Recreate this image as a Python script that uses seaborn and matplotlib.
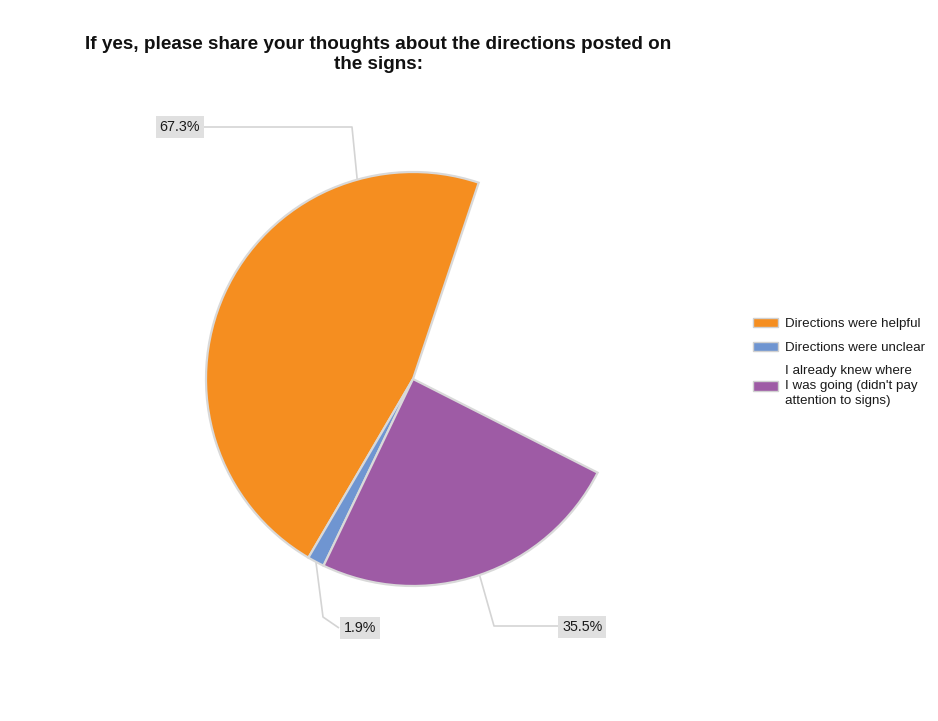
import numpy as np
import matplotlib
matplotlib.use("Agg")
import matplotlib.pyplot as plt
import seaborn as sns

# Survey answers and their shares of respondents (%)
categories = [
    "Directions were helpful",
    "Directions were unclear",
    "I already knew where\nI was going (didn't pay\nattention to signs)",
]
shares = [67.3, 1.9, 35.5]
value_labels = ["67.3%", "1.9%", "35.5%"]
title = "If yes, please share your thoughts about the directions posted on\nthe signs:"

sns.set_theme(style="white")
plt.rcParams["font.family"] = ["Liberation Sans", "DejaVu Sans"]
palette = sns.color_palette(["#F58E20", "#6F95D1", "#9E5BA5"])

W, H = 938, 721
fig = plt.figure(figsize=(W / 100, H / 100), dpi=100)
ax = fig.add_axes([0, 0, 1, 1])


def Y(y):
    """Convert a top-down pixel row to the axes' y coordinate."""
    return H - y


# Pie geometry
cx, cy, radius = 413, Y(379), 207
sweep = 261.6          # degrees covered by the wedges
start = 71.5           # angle of the first wedge's leading edge
vals = np.array(shares, dtype=float)
fracs = vals / vals.sum() * sweep / 360.0

wedges, _ = ax.pie(
    fracs, normalize=False, colors=palette, startangle=start,
    counterclock=True, center=(cx, cy), radius=radius,
    wedgeprops=dict(edgecolor="#d9d9d9", linewidth=1.6, joinstyle="miter"),
)
ax.set_xlim(0, W)
ax.set_ylim(0, H)
ax.set_aspect("equal")
ax.axis("off")

# Leader lines and value boxes
anchor_pos = [0.203, 0.5, 0.5]
elbows = [
    [(352, 127), (203, 127)],
    [(323, 617), (339, 628)],
    [(494, 626), (560, 626)],
]
label_xy = [(200, 127, "right"), (344, 628, "left"), (562, 627, "left")]
for w, f, pts, (lx, ly, ha), txt in zip(wedges, anchor_pos, elbows, label_xy, value_labels):
    a = np.deg2rad(w.theta1 + f * (w.theta2 - w.theta1))
    px = cx + radius * np.cos(a)
    py = cy + radius * np.sin(a)
    xs = [px] + [p[0] for p in pts]
    ys = [py] + [Y(p[1]) for p in pts]
    ax.plot(xs, ys, color="#d4d4d4", lw=1.2, zorder=0.5, solid_capstyle="butt")
    ax.text(lx, Y(ly), txt, ha=ha, va="center", fontsize=10.3, color="#1a1a1a",
            bbox=dict(boxstyle="square,pad=0.25", facecolor="#e0e0e0", edgecolor="none"),
            zorder=3)

# Title
ax.text(378, Y(54.5), title, ha="center", va="center", fontsize=13.6, fontweight="bold",
        color="#111111", linespacing=1.3)

# Legend
leg = ax.legend(
    wedges, categories, loc="upper left", bbox_to_anchor=(746, Y(311)),
    bbox_transform=ax.transData, frameon=False, fontsize=9.6,
    handlelength=1.9, handleheight=0.75, handletextpad=0.5, labelspacing=0.85,
    borderpad=0.0,
)
for t in leg.get_texts():
    t.set_linespacing(1.3)
    t.set_color("#1a1a1a")
for h in leg.legend_handles:
    h.set_edgecolor("#d0d0d0")
    h.set_linewidth(1.0)

fig.savefig("out.png", dpi=100)
